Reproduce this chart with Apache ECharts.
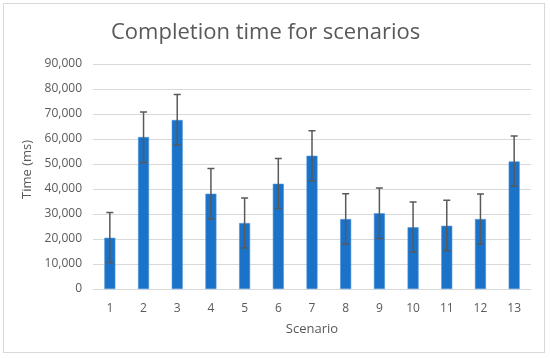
<!DOCTYPE html>
<html>
<head>
<meta charset="utf-8">
<script src="https://cdn.jsdelivr.net/npm/echarts@6/dist/echarts.min.js"></script>
<style>
html,body{margin:0;padding:0;background:#fff;}
#frame{position:absolute;left:3px;top:3px;width:542px;height:350px;border:1px solid #d9d9d9;box-sizing:border-box;}
#chart{position:absolute;left:0;top:0;width:550px;height:358px;}
</style>
</head>
<body>
<div id="frame"></div>
<div id="chart"></div>
<script>
const categories = ['1','2','3','4','5','6','7','8','9','10','11','12','13'];
const meanTimes = [20500, 60800, 67600, 38100, 26400, 42100, 53300, 28000, 30300, 24700, 25300, 28000, 51000];
const errorLow  = [10600, 50600, 57600, 28000, 16400, 32200, 43300, 18000, 20200, 14800, 15300, 18000, 41200];
const errorHigh = [30600, 70800, 77800, 48200, 36400, 52200, 63300, 38100, 40400, 34800, 35500, 38000, 61200];

const FONT = '"Open Sans", "Liberation Sans", sans-serif';
const chart = echarts.init(document.getElementById('chart'), null, {renderer: 'canvas'});
const errData = categories.map((c, i) => [i, errorLow[i], errorHigh[i]]);

chart.setOption({
  backgroundColor: 'transparent',
  animation: false,
  title: {
    text: 'Completion time for scenarios',
    left: 106,
    top: 17,
    textStyle: {fontFamily: FONT, fontSize: 22, fontWeight: 'normal', color: '#595959'}
  },
  grid: {left: 93, right: 19, top: 64, bottom: 69},
  xAxis: {
    type: 'category',
    data: categories,
    name: 'Scenario',
    nameLocation: 'middle',
    nameGap: 34,
    nameTextStyle: {fontFamily: FONT, fontSize: 13, color: '#595959'},
    axisLine: {lineStyle: {color: '#d9d9d9'}},
    axisTick: {show: false},
    axisLabel: {fontFamily: FONT, fontSize: 12, color: '#595959', margin: 14}
  },
  yAxis: {
    type: 'value',
    min: 0, max: 90000, interval: 10000,
    name: 'Time (ms)',
    nameLocation: 'middle',
    nameGap: 55,
    nameTextStyle: {fontFamily: FONT, fontSize: 13, color: '#595959', padding: [0, 0, 0, 14]},
    axisLine: {show: false},
    axisTick: {show: false},
    splitLine: {lineStyle: {color: '#d9d9d9', width: 1}},
    axisLabel: {
      fontFamily: FONT, fontSize: 12, color: '#595959', margin: 11,
      formatter: v => v.toLocaleString('en-US')
    }
  },
  series: [
    {
      type: 'bar',
      data: meanTimes,
      barWidth: 11,
      itemStyle: {color: '#1a72c9', borderColor: '#4c93d8', borderWidth: 0.6}
    },
    {
      type: 'custom',
      data: errData,
      z: 5,
      renderItem: function (params, api) {
        const x = api.value(0);
        const lo = api.coord([x, api.value(1)]);
        const hi = api.coord([x, api.value(2)]);
        const hw = 3.5;
        const st = {stroke: '#595959', lineWidth: 1.5};
        return {
          type: 'group',
          children: [
            {type: 'line', shape: {x1: lo[0], y1: lo[1], x2: hi[0], y2: hi[1]}, style: st},
            {type: 'line', shape: {x1: lo[0]-hw, y1: lo[1], x2: lo[0]+hw, y2: lo[1]}, style: st},
            {type: 'line', shape: {x1: hi[0]-hw, y1: hi[1], x2: hi[0]+hw, y2: hi[1]}, style: st}
          ]
        };
      }
    }
  ]
});
</script>
</body>
</html>
